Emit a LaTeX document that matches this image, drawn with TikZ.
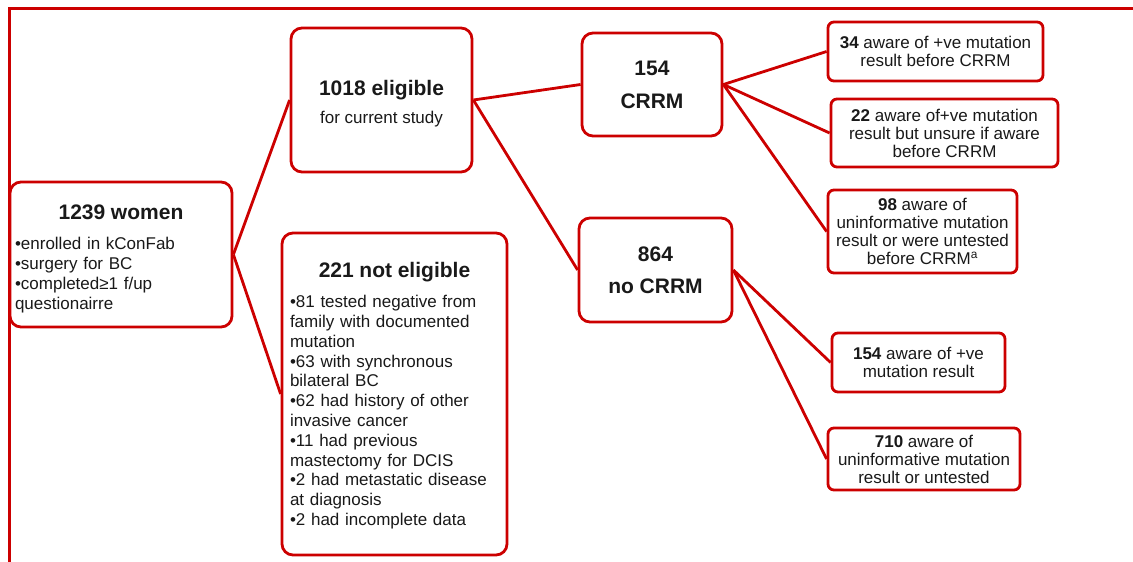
\documentclass[tikz,border=0pt]{standalone}
\usepackage{fontspec}
\setmainfont{Liberation Sans}
\definecolor{fr}{RGB}{204,0,0}
\definecolor{tx}{RGB}{25,25,25}
\newcommand\hdfont{\fontsize{21}{24}\selectfont\bfseries}
\tikzset{
  bigbox/.style={draw=fr, line width=2.8pt, rounded corners=11pt, fill=white, text=tx,
    align=center, inner sep=0pt, font=\fontsize{17}{20}\selectfont},
  smallbox/.style={draw=fr, line width=2.8pt, rounded corners=6pt, fill=white, text=tx,
    align=center, inner sep=0pt, font=\fontsize{17}{18}\selectfont},
  link/.style={draw=fr, line width=2.8pt},
  frameline/.style={draw=fr, line width=3pt}
}
\begin{document}
\begin{tikzpicture}[x=1pt,y=-1pt]
\useasboundingbox (0,0) rectangle (1133,562);
\draw[frameline] (1133,8) -- (9,8) -- (9,562);

% left column
\node[bigbox, minimum width=222, minimum height=145, text width=212, align=left] (women) at (121,254.5)
  {\makebox[212pt]{\rule{0pt}{23pt}\hdfont 1239 women}\\[10pt]
   •enrolled in kConFab\\ •surgery for BC\\ •completed≥1 f/up\\ questionairre};

% middle column
\node[bigbox, minimum width=181, minimum height=144] (elig) at (381.5,100)
  {{\rule{0pt}{23pt}\hdfont 1018 eligible}\\[8pt] for current study};
\node[bigbox, minimum width=225, minimum height=322, text width=209, align=left,
      font=\fontsize{17}{19.8}\selectfont] (notel) at (394.5,394)
  {\makebox[209pt]{\rule{0pt}{19pt}\hdfont 221 not eligible}\\[10pt]
   •81 tested negative from\\ family with documented\\ mutation\\
   •63 with synchronous\\ bilateral BC\\
   •62 had history of other\\ invasive cancer\\
   •11 had previous\\ mastectomy for DCIS\\
   •2 had metastatic disease\\ at diagnosis\\
   •2 had incomplete data};

% CRRM column
\node[bigbox, minimum width=140, minimum height=103, font=\fontsize{21}{33}\selectfont\bfseries] (crrm) at (652,84.5)
  {154\\ CRRM};
\node[bigbox, minimum width=153, minimum height=104, font=\fontsize{21}{32}\selectfont\bfseries] (nocrrm) at (655.5,270)
  {864\\ no CRRM};

% right column
\node[smallbox, minimum width=215, minimum height=59] (a34) at (935.5,51.5)
  {\textbf{34} aware of +ve mutation\\ result before CRRM};
\node[smallbox, minimum width=227, minimum height=68] (a22) at (944.5,133)
  {\textbf{22} aware of+ve mutation\\ result but unsure if aware\\ before CRRM};
\node[smallbox, minimum width=189, minimum height=83] (a98) at (922.5,231.5)
  {\textbf{98} aware of\\ uninformative mutation\\ result or were untested\\ before CRRM\textsuperscript{a}};
\node[smallbox, minimum width=173, minimum height=59] (a154) at (918.5,362.5)
  {\textbf{154} aware of +ve\\ mutation result};
\node[smallbox, minimum width=192, minimum height=62] (a710) at (924,459)
  {\textbf{710} aware of\\ uninformative mutation\\ result or untested};

% connectors
\draw[link] (women.east) -- (elig.west);
\draw[link] (women.east) -- (notel.west);
\draw[link] (elig.east) -- (crrm.west);
\draw[link] (elig.east) -- (nocrrm.west);
\draw[link] (crrm.east) -- (a34.west);
\draw[link] (crrm.east) -- (a22.west);
\draw[link] (crrm.east) -- (a98.west);
\draw[link] (nocrrm.east) -- (a154.west);
\draw[link] (nocrrm.east) -- (a710.west);
\end{tikzpicture}
\end{document}
